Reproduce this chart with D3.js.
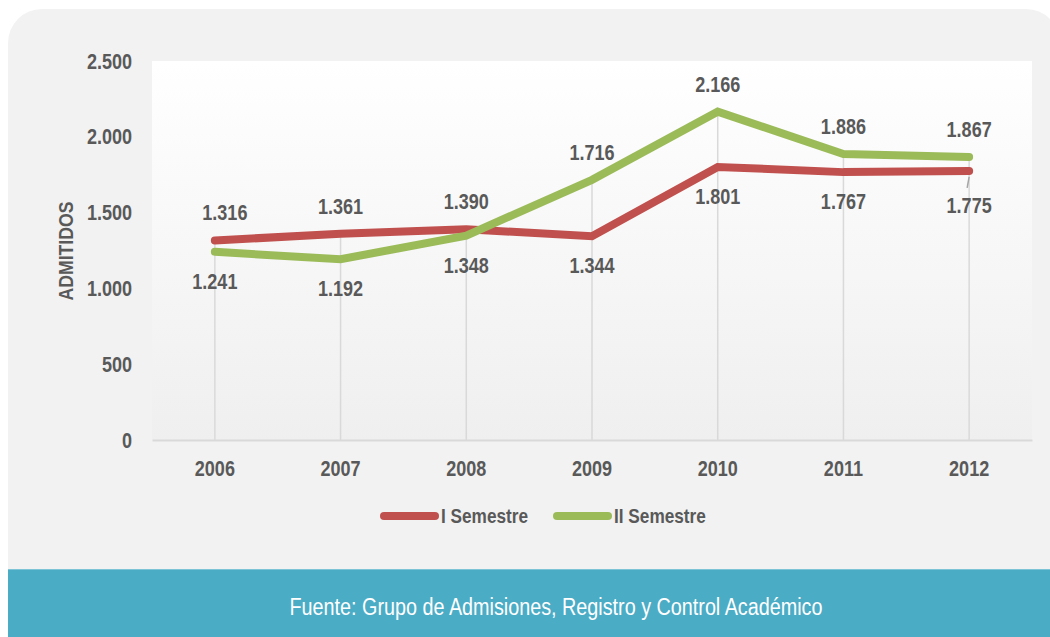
<!DOCTYPE html>
<html><head><meta charset="utf-8">
<script src="https://cdn.jsdelivr.net/npm/d3@7"></script>
<style>
html,body{margin:0;padding:0;background:#fff;}
svg{display:block;}
</style></head>
<body>
<svg id="chart" width="1050" height="637"></svg>
<script>
const years = ["2006","2007","2008","2009","2010","2011","2012"];
const semestreI = [1316,1361,1390,1344,1801,1767,1775];
const semestreII = [1241,1192,1348,1716,2166,1886,1867];
// label placement: 1 = above, -1 = below
const labelSideI = [1,1,1,-1,-1,-1,-1];
const labelSideII = [-1,-1,-1,1,1,1,1];
const yTicks = [0,500,1000,1500,2000,2500];
const seriesNames = ["I Semestre","II Semestre"];
const colors = ["#C0504D","#9BBB59"];
const footerText = "Fuente: Grupo de Admisiones, Registro y Control Académico";
const yTitle = "ADMITIDOS";

const svg = d3.select("#chart");
const FONT = "'Liberation Sans Narrow','Arial Narrow','Liberation Sans',Arial,sans-serif";
const TXT = "#595959";
const SX = 0.82; // horizontal condensing to mimic a narrow face

function ntext(parent, x, y, str, opts){
  const g = parent.append("g").attr("transform",`translate(${x},${y})${opts.rotate?` rotate(${opts.rotate})`:""} scale(${opts.sx||SX},1)`);
  return g.append("text").attr("text-anchor",opts.anchor||"middle")
    .attr("font-family",FONT).attr("font-size",opts.size||22).attr("font-weight",opts.weight||"bold")
    .attr("fill",opts.fill||TXT).text(str);
}

const defs = svg.append("defs");
const grad = defs.append("linearGradient").attr("id","plotbg").attr("x1",0).attr("y1",0).attr("x2",0).attr("y2",1);
grad.append("stop").attr("offset","0%").attr("stop-color","#ffffff");
grad.append("stop").attr("offset","100%").attr("stop-color","#efefef");

// card with rounded top corners
svg.append("path")
  .attr("d", (() => { const x=8,y=9,r=34,w=1052,h=600;
    return `M${x},${y+r} A${r},${r} 0 0 1 ${x+r},${y} L${x+w-r},${y} A${r},${r} 0 0 1 ${x+w},${y+r} L${x+w},${y+h} L${x},${y+h} Z`; })())
  .attr("fill","#f2f2f2");

const margin = {left:152, right:1032, top:61, bottom:440};
const x = d3.scaleBand().domain(years).range([margin.left, margin.right]);
const y = d3.scaleLinear().domain([0,2500]).range([margin.bottom, margin.top]);

svg.append("rect").attr("x",margin.left).attr("y",margin.top)
  .attr("width",margin.right-margin.left).attr("height",margin.bottom-margin.top)
  .attr("fill","url(#plotbg)");

const cx = d => x(d) + x.bandwidth()/2;

// drop lines
svg.append("g").selectAll("line").data(years).join("line")
  .attr("x1",d=>cx(d)).attr("x2",d=>cx(d))
  .attr("y1",(d,i)=>y(Math.max(semestreI[i],semestreII[i])))
  .attr("y2",y(0))
  .attr("stroke","#d9d9d9").attr("stroke-width",1.5);

// x axis
const xAxis = svg.append("g").attr("transform",`translate(0,${y(0)})`)
  .call(d3.axisBottom(x).tickSize(0).tickPadding(20));
xAxis.select(".domain").attr("stroke","#d9d9d9").attr("stroke-width",2);
xAxis.selectAll("text").attr("font-family",FONT).attr("font-size",22).attr("font-weight","bold").attr("fill",TXT)
  .attr("transform",`scale(${SX},1)`);

// y axis
const yAxis = svg.append("g").attr("transform",`translate(${margin.left},0)`)
  .call(d3.axisLeft(y).tickValues(yTicks).tickSize(0).tickPadding(20)
    .tickFormat(d => d3.format(",")(d).replace(/,/g,".")));
yAxis.select(".domain").remove();
yAxis.selectAll("text").attr("font-family",FONT).attr("font-size",22).attr("font-weight","bold").attr("fill",TXT)
  .attr("x",-20/SX).attr("transform",`scale(${SX},1)`);

ntext(svg, 73, 251, yTitle, {rotate:-90, size:21, sx:0.84});

const line = d3.line().x((d,i)=>cx(years[i])).y(d=>y(d));
[semestreI, semestreII].forEach((s,k)=>{
  svg.append("path").datum(s).attr("d",line).attr("fill","none")
    .attr("stroke",colors[k]).attr("stroke-width",8).attr("stroke-linecap","round").attr("stroke-linejoin","miter");
});

const fmt = v => d3.format(",")(v).replace(/,/g,".");
function labels(s, sides){
  const g = svg.append("g");
  s.forEach((d,i)=>{
    const lx = cx(years[i]) + (i===0 && sides[i]>0 ? 10 : 0);
    const ly = sides[i]>0 ? y(d)-20 : y(d)+(i===6?42:37);
    ntext(g, lx, ly, fmt(d), {size:22});
  });
}
labels(semestreI, labelSideI);
labels(semestreII, labelSideII);
// leader line for last I label
svg.append("line").attr("x1",cx(years[6])).attr("y1",y(semestreI[6])+6)
  .attr("x2",cx(years[6])-2).attr("y2",y(semestreI[6])+17).attr("stroke","#a6a6a6").attr("stroke-width",1.5);

// legend
const legendX = [384,557];
legendX.forEach((lx,k)=>{
  svg.append("line").attr("x1",lx).attr("x2",lx+51).attr("y1",516).attr("y2",516)
    .attr("stroke",colors[k]).attr("stroke-width",8).attr("stroke-linecap","round");
  ntext(svg, lx+57, 523, seriesNames[k], {size:21, anchor:"start"});
});

// footer
svg.append("rect").attr("x",8).attr("y",569).attr("width",1050).attr("height",70).attr("fill","#4BACC6");
svg.append("line").attr("x1",8).attr("x2",1050).attr("y1",569.5).attr("y2",569.5).attr("stroke","#7cc4d6").attr("stroke-width",1);
ntext(svg, 556, 615, footerText, {size:23, weight:"normal", fill:"#ffffff", sx:0.86});
</script>
</body></html>
